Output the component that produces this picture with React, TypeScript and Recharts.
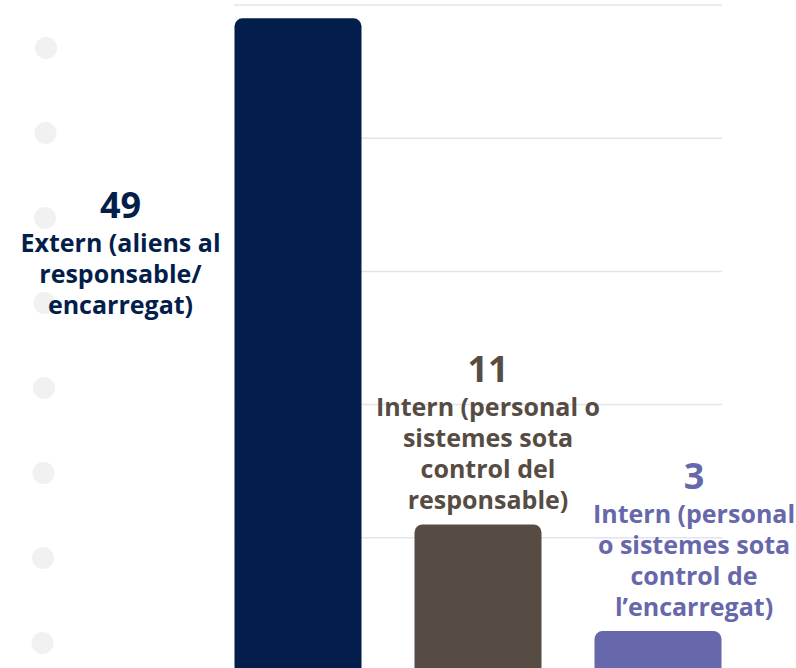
import { BarChart, Bar, XAxis, YAxis, CartesianGrid, Cell, LabelList } from 'recharts';

// categories (label lines as shown in the picture)
const categories = ['Extern', 'Intern responsable', 'Intern encarregat'];
const labelLines = [
    ['Extern (aliens al', 'responsable/', 'encarregat)'],
    ['Intern (personal o', 'sistemes sota', 'control del', 'responsable)'],
    ['Intern (personal', 'o sistemes sota', 'control de', 'l’encarregat)'],
];
const counts = [49, 11, 3];
const colors = ['#031e4b', '#564c43', '#6767ab'];
const yTicks = [0, 10, 20, 30, 40, 50];

const data = categories.map((name, i) => ({ name, value: counts[i], lines: labelLines[i] }));

const FONT = '"Open Sans", "Noto Sans", sans-serif';

function BarLabel(props: any) {
    const { x, y, width, index, value } = props;
    const lines = labelLines[index];
    const color = colors[index];
    let cx: number;
    let base: number;
    if (index === 0) {
        // tall bar: label sits to the left
        cx = x - 114;
        base = y + 200;
    } else {
        cx = x + width / 2 + (index === 1 ? 10 : 36);
        base = y - 142;
    }
    return (
        <text textAnchor="middle" fill={color} fontFamily={FONT} fontWeight={700}>
            <tspan x={cx} y={base} fontSize={36}>{value}</tspan>
            {lines.map((l, i) => (
                <tspan key={i} x={cx} y={base + 34 + i * 31} fontSize={25}>{l}</tspan>
            ))}
        </text>
    );
}

export default function App() {
    const dots = Array.from({ length: 8 }, (_, i) => i);
    return (
        <div style={{ position: 'absolute', left: 0, top: 0, width: 796, height: 668, overflow: 'hidden', background: '#fff' }}>
            <svg width={796} height={668} style={{ position: 'absolute', left: 0, top: 0 }}>
                {dots.map((i) => (
                    <circle key={i} cx={46 - i * 0.5} cy={48 + i * 85} r={11} fill="#f1f1f1" />
                ))}
            </svg>
            <div style={{ position: 'absolute', left: 0, top: 0 }}>
                <BarChart
                    width={796}
                    height={672}
                    data={data}
                    margin={{ top: 5, right: 74, bottom: 1, left: 234 }}
                >
                    <CartesianGrid vertical={false} stroke="#e4e2f0" strokeWidth={1.5} />
                    <XAxis dataKey="name" hide padding={{ left: -26.5, right: -25.5 }} />
                    <YAxis hide domain={[0, 50]} ticks={yTicks} />
                    <Bar dataKey="value" barSize={127} radius={[8, 8, 0, 0]} isAnimationActive={false}>
                        {data.map((d, i) => (
                            <Cell key={d.name} fill={colors[i]} />
                        ))}
                        <LabelList dataKey="value" content={<BarLabel />} />
                    </Bar>
                </BarChart>
            </div>
        </div>
    );
}
